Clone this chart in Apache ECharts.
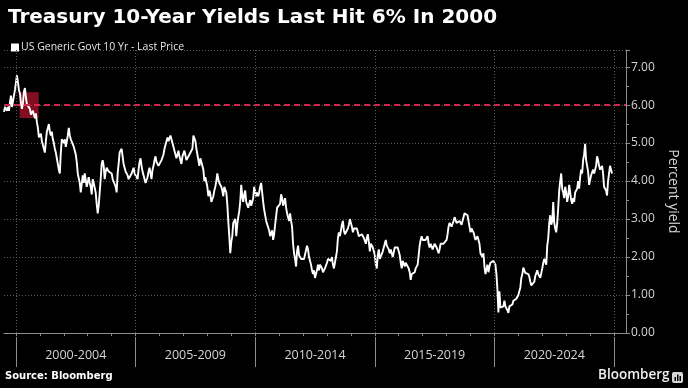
<!DOCTYPE html>
<html>
<head>
<meta charset="utf-8">
<script src="https://cdn.jsdelivr.net/npm/echarts@6/dist/echarts.min.js"></script>
<style>
html,body{margin:0;padding:0;background:#000;}
#chart{width:688px;height:388px;}
</style>
</head>
<body>
<div id="chart"></div>
<script>
// Two readings per month, starting July 1999
const firstYear = 1999.5;
const yields1999to2004 = [
  5.82, 5.95, 5.98, 5.85, 5.95, 5.85, 6.08, 6.25, 5.95, 6.10, 6.25, 6.40,
  6.45, 6.78, 6.60, 6.40, 6.30, 6.05, 5.90, 6.05, 6.35, 6.45, 6.20, 6.02, 6.05, 6.00, 5.90, 5.75, 5.70, 5.85, 5.80, 5.65, 5.78, 5.55, 5.40, 5.15,
  5.10, 5.25, 5.05, 4.95, 4.85, 4.75, 5.05, 5.30, 5.40, 5.50, 5.30, 5.20, 5.30, 5.10, 5.00, 4.85, 4.75, 4.60, 4.55, 4.30, 4.20, 4.75, 5.10, 5.05,
  5.00, 5.10, 4.90, 4.85, 5.20, 5.40, 5.20, 5.10, 5.15, 5.05, 4.90, 4.80, 4.70, 4.50, 4.20, 4.15, 3.95, 3.70, 3.65, 4.15, 3.95, 4.20, 4.15, 3.85,
  3.90, 4.10, 3.95, 3.85, 3.65, 4.05, 3.95, 3.90, 3.70, 3.40, 3.15, 3.35, 3.70, 4.05, 4.45, 4.55, 4.40, 4.05, 4.25, 4.35, 4.35, 4.25, 4.30, 4.25,
  4.20, 4.05, 4.10, 4.05, 3.85, 3.70, 4.20, 4.45, 4.75, 4.80, 4.85, 4.65, 4.45, 4.50, 4.25, 4.20, 4.15, 4.05, 4.10, 4.05, 4.20, 4.25, 4.35, 4.20
];
const yields2005to2009 = [
  4.25, 4.15, 4.05, 4.30, 4.50, 4.60, 4.40, 4.25, 4.15, 4.05, 3.95, 4.00, 4.10, 4.25, 4.35, 4.20, 4.05, 4.30, 4.40, 4.55, 4.65, 4.50, 4.45, 4.40,
  4.35, 4.40, 4.55, 4.55, 4.70, 4.85, 4.90, 5.05, 5.15, 5.05, 5.00, 5.20, 5.15, 5.00, 4.90, 4.80, 4.75, 4.60, 4.70, 4.80, 4.65, 4.55, 4.45, 4.65,
  4.70, 4.80, 4.80, 4.55, 4.50, 4.60, 4.70, 4.65, 4.65, 4.85, 5.20, 5.25, 5.05, 4.85, 4.70, 4.55, 4.40, 4.60, 4.65, 4.40, 4.30, 4.00, 4.10, 4.15,
  3.85, 3.60, 3.75, 3.65, 3.45, 3.50, 3.60, 3.75, 3.85, 4.00, 4.20, 4.05, 3.95, 4.00, 3.85, 3.75, 3.60, 3.85, 3.85, 3.70, 3.40, 2.95, 2.55, 2.10,
  2.40, 2.55, 2.90, 2.85, 3.00, 2.55, 2.85, 3.05, 3.20, 3.45, 3.90, 3.60, 3.45, 3.65, 3.75, 3.45, 3.45, 3.30, 3.25, 3.50, 3.35, 3.35, 3.55, 3.85
];
const yields2010to2014 = [
  3.80, 3.60, 3.70, 3.60, 3.70, 3.85, 3.95, 3.70, 3.45, 3.25, 3.20, 2.95, 3.00, 2.95, 2.70, 2.55, 2.60, 2.70, 2.45, 2.60, 2.85, 2.80, 3.30, 3.35,
  3.35, 3.40, 3.65, 3.55, 3.35, 3.45, 3.55, 3.30, 3.15, 3.05, 2.95, 3.15, 2.95, 2.80, 2.35, 2.10, 1.95, 1.75, 2.15, 2.30, 2.05, 2.00, 1.95, 1.90,
  1.95, 1.95, 1.95, 2.00, 2.30, 2.20, 2.00, 1.95, 1.80, 1.65, 1.55, 1.65, 1.45, 1.50, 1.65, 1.80, 1.65, 1.80, 1.75, 1.70, 1.60, 1.65, 1.70, 1.75,
  1.85, 1.95, 2.00, 1.95, 1.90, 2.00, 1.80, 1.70, 1.70, 2.00, 2.15, 2.50, 2.65, 2.55, 2.60, 2.85, 2.95, 2.70, 2.60, 2.60, 2.65, 2.75, 2.85, 3.00,
  2.95, 2.80, 2.65, 2.75, 2.75, 2.70, 2.75, 2.65, 2.55, 2.50, 2.60, 2.60, 2.55, 2.50, 2.45, 2.35, 2.50, 2.60, 2.40, 2.15, 2.35, 2.30, 2.25, 2.20
];
const yields2015to2019 = [
  2.05, 1.80, 1.70, 2.05, 2.20, 1.95, 1.90, 1.95, 2.15, 2.25, 2.35, 2.45, 2.30, 2.35, 2.20, 2.10, 2.20, 2.10, 2.00, 2.05, 2.25, 2.30, 2.20, 2.25,
  2.20, 2.05, 1.85, 1.70, 1.90, 1.95, 1.75, 1.85, 1.80, 1.85, 1.70, 1.60, 1.40, 1.55, 1.55, 1.55, 1.60, 1.70, 1.70, 1.80, 1.85, 2.30, 2.45, 2.55,
  2.45, 2.40, 2.45, 2.45, 2.50, 2.55, 2.35, 2.25, 2.35, 2.30, 2.20, 2.15, 2.35, 2.30, 2.25, 2.20, 2.10, 2.20, 2.35, 2.40, 2.35, 2.35, 2.35, 2.40,
  2.45, 2.60, 2.80, 2.90, 2.85, 2.80, 2.80, 2.95, 3.05, 3.10, 2.90, 2.90, 2.85, 2.95, 2.95, 2.85, 2.90, 3.05, 3.15, 3.20, 3.20, 3.10, 2.95, 2.80,
  2.65, 2.75, 2.70, 2.65, 2.60, 2.45, 2.50, 2.55, 2.50, 2.35, 2.10, 2.05, 2.00, 2.10, 1.75, 1.55, 1.50, 1.80, 1.60, 1.75, 1.85, 1.80, 1.85, 1.90
];
const yields2020to2024 = [
  1.85, 1.80, 1.55, 1.15, 0.54, 1.10, 0.67, 0.62, 0.65, 0.70, 0.85, 0.70, 0.65, 0.60, 0.53, 0.70, 0.68, 0.68, 0.75, 0.85, 0.85, 0.90, 0.90, 0.93,
  1.00, 1.10, 1.20, 1.45, 1.55, 1.72, 1.65, 1.58, 1.60, 1.62, 1.55, 1.48, 1.35, 1.25, 1.20, 1.28, 1.35, 1.50, 1.55, 1.65, 1.55, 1.60, 1.45, 1.50,
  1.70, 1.85, 1.95, 2.00, 1.80, 2.30, 2.50, 2.90, 3.10, 2.85, 2.95, 3.45, 2.90, 2.75, 2.65, 2.90, 3.30, 3.75, 4.00, 4.20, 3.80, 3.70, 3.55, 3.85,
  3.70, 3.45, 3.60, 3.90, 3.95, 3.50, 3.40, 3.55, 3.45, 3.70, 3.65, 3.80, 4.00, 3.80, 4.10, 4.30, 4.20, 4.55, 4.70, 4.98, 4.55, 4.40, 4.25, 3.90,
  3.95, 4.15, 4.15, 4.30, 4.20, 4.30, 4.40, 4.65, 4.55, 4.40, 4.30, 4.25, 4.40, 4.20, 3.85, 3.85, 3.75, 3.62, 4.00, 4.20, 4.40, 4.42, 4.20
];
const periodStarts = [2000, 2005, 2010, 2015, 2020];
const periodLabels = ['2000-2004', '2005-2009', '2010-2014', '2015-2019', '2020-2024'];
const yearTicks = [2000,2001,2002,2003,2004,2005,2006,2007,2008,2009,2010,2011,2012,2013,2014,2015,2016,2017,2018,2019,2020,2021,2022,2023,2024,2025];
const boundaryYears = [2000, 2005, 2010, 2015, 2020, 2025];
const thresholdYield = 6;
const highlightBox = {x0: 2000.15, x1: 2000.95, y0: 5.66, y1: 6.34};
const seriesName = 'US Generic Govt 10 Yr - Last Price';

const allYields = [].concat(yields1999to2004, yields2005to2009, yields2010to2014, yields2015to2019, yields2020to2024);
const lineData = allYields.map((v, i) => [firstYear + i / 24, v]);
const labelCenters = periodStarts.map(s => s + 2.5);

const FONT = "'Open Sans', sans-serif";
const chart = echarts.init(document.getElementById('chart'), null, {renderer: 'canvas'});
chart.setOption({
  backgroundColor: '#000',
  animation: false,
  title: {
    text: 'Treasury 10-Year Yields Last Hit 6% In 2000',
    left: 3, top: 3,
    textStyle: {color: '#fff', fontSize: 20, fontWeight: 'bold', fontFamily: 'DejaVu Sans'}
  },
  legend: {
    data: [seriesName],
    left: 6, top: 37,
    icon: 'rect', itemWidth: 8, itemHeight: 8,
    itemStyle: {color: '#fff'},
    textStyle: {color: '#e6e6e6', fontSize: 10.5, fontFamily: FONT, padding: [0,0,0,-3]}
  },
  grid: {left: 4, right: 59, top: 50, bottom: 55, containLabel: false},
  xAxis: [{
    type: 'value', min: 1999.5, max: 2025.5, position: 'bottom', offset: 4,
    axisLine: {show: true, lineStyle: {color: '#8c8c8c', width: 1}},
    axisTick: {show: true, customValues: yearTicks, length: 3, lineStyle: {color: '#8c8c8c'}},
    axisLabel: {show: true, customValues: labelCenters, margin: 12, color: '#d4d4d4', fontSize: 12.5, fontFamily: FONT,
      formatter: v => periodLabels[Math.round((v - labelCenters[0]) / 5)] || ''},
    splitLine: {show: false}
  }, {
    type: 'value', min: 1999.5, max: 2025.5, position: 'bottom', offset: 4,
    axisLine: {show: false},
    axisTick: {show: true, customValues: boundaryYears, length: 30, lineStyle: {color: '#8c8c8c'}},
    axisLabel: {show: false},
    splitLine: {show: false}
  }],
  yAxis: {
    type: 'value', position: 'right', min: 0, max: 7.45, interval: 1,
    axisLine: {show: true, lineStyle: {color: '#8c8c8c'}},
    axisTick: {show: true, length: 4, lineStyle: {color: '#8c8c8c'}},
    minorTick: {show: true, splitNumber: 2, length: 3, lineStyle: {color: '#8c8c8c'}},
    axisLabel: {color: '#d4d4d4', fontSize: 12, fontFamily: FONT, margin: 5, showMaxLabel: false,
      formatter: v => v.toFixed(2)},
    splitLine: {show: true, lineStyle: {color: '#5a5a5a', type: [1, 2], width: 1}},
    name: 'Percent yield', nameLocation: 'middle', nameRotate: -90, nameGap: 40,
    nameTextStyle: {color: '#d4d4d4', fontSize: 14, fontFamily: FONT}
  },
  series: [{
    name: seriesName,
    type: 'line',
    data: lineData,
    showSymbol: false,
    symbol: 'none',
    z: 3,
    lineStyle: {color: '#fff', width: 1.9},
    itemStyle: {color: '#fff'},
    markLine: {
      silent: true, symbol: 'none', label: {show: false},
      data: [
        {yAxis: thresholdYield, lineStyle: {color: '#d0264f', width: 2, type: [6, 4]}}
      ].concat(boundaryYears.map(y => ({xAxis: y, lineStyle: {color: '#5a5a5a', width: 1, type: [1, 2]}})))
    }
  }, {
    name: 'highlight',
    type: 'line',
    data: [],
    z: 10,
    markArea: {
      silent: true,
      itemStyle: {color: 'rgba(235,25,60,0.55)'},
      data: [[{xAxis: highlightBox.x0, yAxis: highlightBox.y1}, {xAxis: highlightBox.x1, yAxis: highlightBox.y0}]]
    }
  }],
  graphic: [
    {type: 'text', left: 5, top: 371, style: {text: 'Source: Bloomberg', fill: '#fff', font: "bold 10px 'DejaVu Sans'"}},
    {type: 'text', left: 598, top: 368, style: {text: 'Bloomberg', fill: '#f0f0f0', font: "600 13.5px 'Open Sans'"}},
    {type: 'rect', left: 672, top: 372, shape: {width: 11, height: 11, r: 2}, style: {fill: '#d8d8d8'}},
    {type: 'rect', left: 674.5, top: 377, shape: {width: 1.5, height: 4}, style: {fill: '#000'}},
    {type: 'rect', left: 677, top: 374.5, shape: {width: 1.5, height: 6.5}, style: {fill: '#000'}},
    {type: 'rect', left: 679.5, top: 376, shape: {width: 1.5, height: 5}, style: {fill: '#000'}}
  ]
});
</script>
</body>
</html>
